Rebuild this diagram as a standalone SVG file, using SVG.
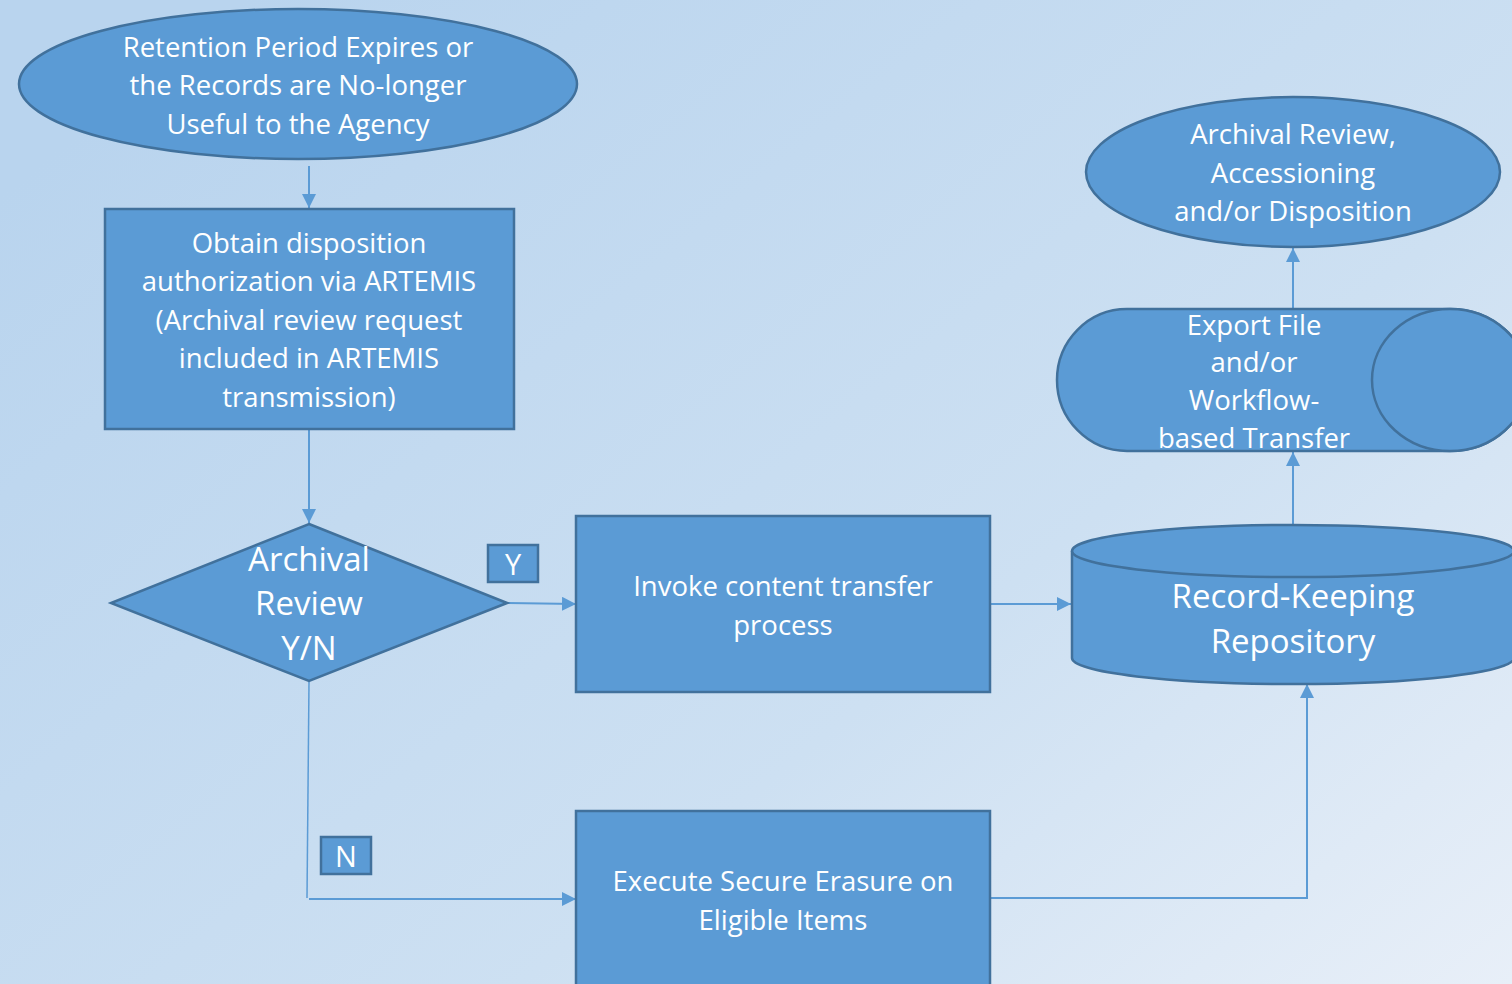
<svg xmlns="http://www.w3.org/2000/svg" width="1512" height="984" viewBox="0 0 1512 984">
<defs>
<linearGradient id="bg" x1="0" y1="0.2" x2="1" y2="1">
<stop offset="0" stop-color="#b9d4ee"/>
<stop offset="0.6" stop-color="#cde0f2"/>
<stop offset="1" stop-color="#e8eff8"/>
</linearGradient>
<marker id="ah" markerWidth="14" markerHeight="14" viewBox="0 0 14 14" refX="14" refY="7" orient="auto" markerUnits="userSpaceOnUse">
<path d="M0,0 L14,7 L0,14 Z" fill="#5b9bd5"/>
</marker>
</defs>
<style>
.shape{fill:#5b9bd5;stroke:#41719c;stroke-width:2.5}
.t{font-family:"Open Sans","Noto Sans",sans-serif;fill:#ffffff;text-anchor:middle;font-size:27.5px}
.tb{font-family:"Open Sans","Noto Sans",sans-serif;fill:#ffffff;text-anchor:middle;font-size:33px}
.c{fill:none;stroke:#5b9bd5;stroke-width:2}
</style>
<rect width="1512" height="984" fill="url(#bg)"/>

<g id="connectors">
<path class="c" d="M309,166 V208" marker-end="url(#ah)"/>
<path class="c" d="M309,430 V523" marker-end="url(#ah)"/>
<path class="c" d="M507,603 L576,604" marker-end="url(#ah)"/>
<path class="c" d="M991,604 H1071" marker-end="url(#ah)"/>
<path class="c" d="M1293,524 V452" marker-end="url(#ah)"/>
<path class="c" d="M1293,309 V248" marker-end="url(#ah)"/>
<path class="c" style="stroke-width:1.5" d="M309,682 L307,898"/>
<path class="c" d="M309,899 H576" marker-end="url(#ah)"/>
<path class="c" d="M991,898 H1307 V684" marker-end="url(#ah)"/>
</g>

<g id="start">
<ellipse class="shape" cx="298" cy="84" rx="279" ry="75"/>
<text class="t" x="298" y="57">Retention Period Expires or</text>
<text class="t" x="298" y="95">the Records are No-longer</text>
<text class="t" x="298" y="134">Useful to the Agency</text>
</g>

<g id="obtain">
<rect class="shape" x="105" y="209" width="409" height="220"/>
<text class="t" x="309" y="253">Obtain disposition</text>
<text class="t" x="309" y="291">authorization via ARTEMIS</text>
<text class="t" x="309" y="330">(Archival review request</text>
<text class="t" x="309" y="368">included in ARTEMIS</text>
<text class="t" x="309" y="407">transmission)</text>
</g>

<g id="decision">
<polygon class="shape" points="309,524 507,603 309,681 111,603"/>
<text class="tb" x="309" y="571">Archival</text>
<text class="tb" x="309" y="615">Review</text>
<text class="tb" x="309" y="660">Y/N</text>
</g>

<g id="label-y">
<rect class="shape" x="488" y="545" width="50" height="37"/>
<text class="tb" x="513" y="575" style="font-size:29px">Y</text>
</g>

<g id="label-n">
<rect class="shape" x="321" y="837" width="50" height="37"/>
<text class="tb" x="346" y="867" style="font-size:29px">N</text>
</g>

<g id="invoke">
<rect class="shape" x="576" y="516" width="414" height="176"/>
<text class="t" x="783" y="596">Invoke content transfer</text>
<text class="t" x="783" y="635">process</text>
</g>

<g id="erase">
<rect class="shape" x="576" y="811" width="414" height="190"/>
<text class="t" x="783" y="891">Execute Secure Erasure on</text>
<text class="t" x="783" y="930">Eligible Items</text>
</g>

<g id="repository">
<path class="shape" d="M1072,551 V658 A221,26 0 0 0 1514,658 V551"/>
<ellipse class="shape" cx="1293" cy="551" rx="221" ry="26"/>
<text class="tb" x="1293" y="608">Record-Keeping</text>
<text class="tb" x="1293" y="653">Repository</text>
</g>

<g id="export">
<path class="shape" d="M1127,309 H1450 A78,71 0 0 1 1450,451 H1127 A70,71 0 0 1 1127,309 Z"/>
<ellipse class="shape" cx="1450" cy="380" rx="78" ry="71"/>
<text class="t" x="1254" y="335">Export File</text>
<text class="t" x="1254" y="372">and/or</text>
<text class="t" x="1254" y="410">Workflow-</text>
<text class="t" x="1254" y="448">based Transfer</text>
</g>

<g id="archival">
<ellipse class="shape" cx="1293" cy="172" rx="207" ry="75"/>
<text class="t" x="1293" y="144">Archival Review,</text>
<text class="t" x="1293" y="183">Accessioning</text>
<text class="t" x="1293" y="221">and/or Disposition</text>
</g>
</svg>
